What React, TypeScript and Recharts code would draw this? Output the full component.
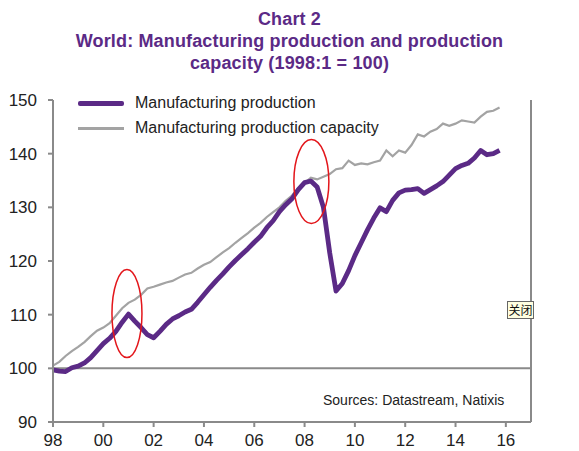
import { LineChart, Line, XAxis, YAxis, ReferenceLine, ReferenceDot } from 'recharts'

// quarterly readings, 1998 Q1 .. 2015 Q4
const START_YEAR = 1998

const PRODUCTION = [
  99.7, 99.5, 99.4, 100.1, 100.4, 101.0, 102.0, 103.3,
  104.6, 105.6, 106.9, 108.6, 110.1, 108.8, 107.6, 106.3,
  105.7, 106.9, 108.2, 109.2, 109.8, 110.5, 111.0, 112.3,
  113.7, 115.1, 116.4, 117.6, 118.9, 120.1, 121.2, 122.3,
  123.5, 124.6, 126.2, 127.5, 129.2, 130.5, 131.6, 133.3,
  134.6, 134.9, 133.8, 130.0, 121.5, 114.4, 115.8, 118.2,
  121.0, 123.4, 125.8, 128.0, 129.9, 129.2, 131.3, 132.7,
  133.2, 133.3, 133.5, 132.6, 133.3, 134.0, 134.8, 136.0,
  137.2, 137.8, 138.2, 139.2, 140.6, 139.8, 140.0, 140.6,
]

const CAPACITY = [
  100.5, 101.2, 102.3, 103.2, 104.0, 104.9, 106.0, 107.0,
  107.6, 108.4, 109.8, 111.2, 112.2, 112.8, 113.7, 114.9,
  115.2, 115.6, 116.0, 116.3, 116.9, 117.5, 117.8, 118.6,
  119.3, 119.8, 120.7, 121.6, 122.4, 123.4, 124.3, 125.2,
  126.2, 127.1, 128.2, 129.1, 130.0, 131.2, 132.2, 133.6,
  134.5, 135.5, 135.2, 135.7, 136.2, 137.1, 137.3, 138.7,
  137.9, 138.2, 138.0, 138.4, 138.7, 140.6, 139.5, 140.6,
  140.2, 141.6, 143.6, 143.2, 144.1, 144.6, 145.6, 145.2,
  145.6, 146.2, 146.0, 145.8, 146.9, 147.8, 148.0, 148.6,
]

const X_TICKS = [1998, 2000, 2002, 2004, 2006, 2008, 2010, 2012, 2014, 2016]
const Y_TICKS = [90, 100, 110, 120, 130, 140, 150]

// circled turning points (year, index value)
const HIGHLIGHT_YEARS = [2000.94, 2008.27]
const HIGHLIGHT_VALUES = [110.2, 134.8]

const data = PRODUCTION.map((p, i) => ({
  t: START_YEAR + i / 4,
  production: p,
  capacity: CAPACITY[i],
}))

const FONT = '"Liberation Sans", Arial, sans-serif'
const PURPLE = '#5b2a86'
const GREY = '#a3a3a3'
const AXIS = '#8a8a8a'
const ELLIPSE_SIZES = [
  { rx: 15, ry: 44 },
  { rx: 17.5, ry: 42 },
]

const tickStyle = { fill: '#222', fontSize: 17, fontFamily: FONT }

export default function App() {
  return (
    <div
      style={{
        position: 'absolute',
        left: 0,
        top: 0,
        width: 579,
        height: 451,
        background: '#fff',
        fontFamily: FONT,
      }}
    >
      <div
        style={{
          position: 'absolute',
          top: 8,
          left: 0,
          width: 579,
          textAlign: 'center',
          color: PURPLE,
          fontWeight: 'bold',
          fontSize: 18,
          letterSpacing: 0.15,
          lineHeight: '22px',
        }}
      >
        <div>Chart 2</div>
        <div>World: Manufacturing production and production</div>
        <div>capacity (1998:1 = 100)</div>
      </div>

      <LineChart
        width={579}
        height={451}
        data={data}
        margin={{ top: 100, right: 0, bottom: 0, left: 0 }}
      >
        <XAxis
          dataKey="t"
          type="number"
          domain={[1998, 2017]}
          ticks={X_TICKS}
          tickFormatter={(v: number) => String(v % 100).padStart(2, '0')}
          stroke={AXIS}
          strokeWidth={2}
          tickSize={5}
          tickMargin={7}
          height={29}
          tick={tickStyle}
          allowDecimals
        />
        <YAxis
          yAxisId="left"
          domain={[90, 150]}
          ticks={Y_TICKS}
          width={53}
          stroke={AXIS}
          strokeWidth={2}
          tickSize={5}
          tickMargin={11}
          tick={tickStyle}
        />
        <YAxis
          yAxisId="right"
          orientation="right"
          domain={[90, 150]}
          ticks={Y_TICKS}
          width={48}
          stroke={AXIS}
          strokeWidth={2}
          tickSize={5}
          tickMargin={11}
          tick={tickStyle}
        />
        <ReferenceLine yAxisId="left" y={100} stroke={AXIS} strokeWidth={2} />
        <Line
          yAxisId="left"
          type="linear"
          dataKey="capacity"
          stroke={GREY}
          strokeWidth={2.2}
          dot={false}
          isAnimationActive={false}
        />
        <Line
          yAxisId="left"
          type="linear"
          dataKey="production"
          stroke={PURPLE}
          strokeWidth={4.8}
          strokeLinejoin="round"
          dot={false}
          isAnimationActive={false}
        />
        {HIGHLIGHT_YEARS.map((yr, i) => (
          <ReferenceDot
            key={yr}
            yAxisId="left"
            x={yr}
            y={HIGHLIGHT_VALUES[i]}
            shape={(props: any) => (
              <ellipse
                cx={props.cx}
                cy={props.cy}
                rx={ELLIPSE_SIZES[i].rx}
                ry={ELLIPSE_SIZES[i].ry}
                fill="none"
                stroke="#e3161b"
                strokeWidth={1.5}
              />
            )}
          />
        ))}
      </LineChart>

      {/* legend */}
      <div style={{ position: 'absolute', left: 78, top: 101, width: 46, height: 5, background: PURPLE, borderRadius: 2 }} />
      <div style={{ position: 'absolute', left: 135, top: 93, fontSize: 16, lineHeight: '20px', color: '#222' }}>
        Manufacturing production
      </div>
      <div style={{ position: 'absolute', left: 78, top: 127, width: 46, height: 2.5, background: GREY }} />
      <div style={{ position: 'absolute', left: 135, top: 118, fontSize: 16, lineHeight: '20px', color: '#222' }}>
        Manufacturing production capacity
      </div>

      <div style={{ position: 'absolute', left: 323, top: 391, fontSize: 14, lineHeight: '18px', color: '#222' }}>
        Sources: Datastream, Natixis
      </div>

      <div
        style={{
          position: 'absolute',
          left: 507,
          top: 301,
          width: 27,
          height: 18,
          boxSizing: 'border-box',
          border: '1px solid #666',
          background: '#ffffe1',
          fontSize: 12,
          lineHeight: '16px',
          textAlign: 'center',
          color: '#111',
          fontFamily: '"Noto Sans CJK SC", sans-serif',
        }}
      >
        关闭
      </div>
    </div>
  )
}
